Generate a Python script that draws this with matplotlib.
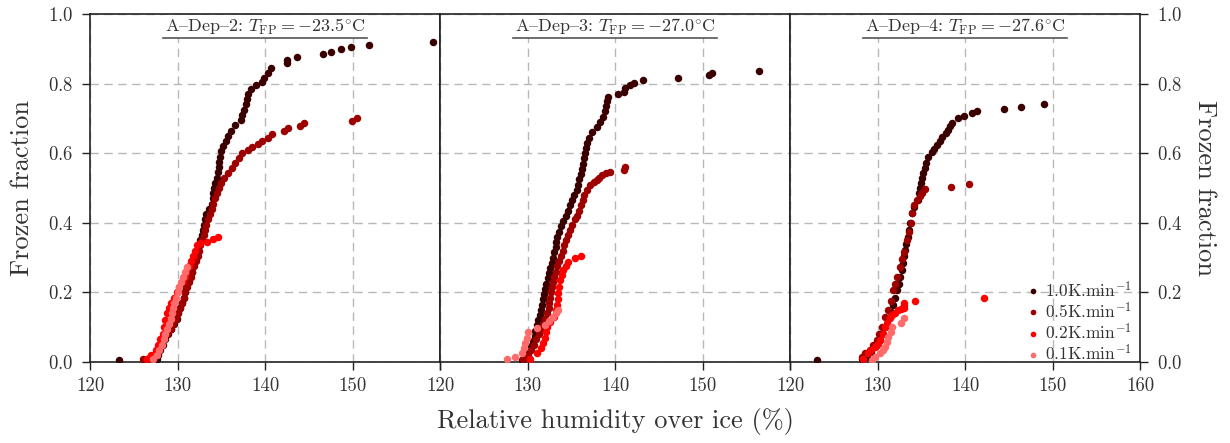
import matplotlib
matplotlib.use("Agg")
import matplotlib.pyplot as plt

plt.rcParams['font.family'] = ['cmr10', 'DejaVu Serif']
plt.rcParams['mathtext.fontset'] = 'cm'
plt.rcParams['axes.formatter.use_mathtext'] = True
plt.rcParams['axes.unicode_minus'] = True

rates = ["1.0K.min$^{-1}$", "0.5K.min$^{-1}$", "0.2K.min$^{-1}$", "0.1K.min$^{-1}$"]
colors = ["#3a0000", "#9e0000", "#ff0000", "#ff6b6b"]
# in cmr10 the '{' code point holds the en dash glyph
titles = [r"A{Dep{2: $T_{\mathrm{FP}} = -23.5^{\circ}$C",
          r"A{Dep{3: $T_{\mathrm{FP}} = -27.0^{\circ}$C",
          r"A{Dep{4: $T_{\mathrm{FP}} = -27.6^{\circ}$C"]
xticks = [120, 130, 140, 150, 160]
yticks = [0.0, 0.2, 0.4, 0.6, 0.8, 1.0]

# ---------- Panel 1 (A-Dep-2) ----------
p1_10_x = [123.3, 127.6, 127.8, 128.0, 128.3, 128.6, 128.9, 129.3, 129.6, 129.9, 130.1, 130.3, 130.5, 130.7,
           130.9, 131.0, 131.2, 131.4, 131.6, 131.8, 132.0, 132.2, 132.3, 132.4, 132.6, 132.8, 132.9, 133.0,
           133.1, 133.3, 133.6, 133.9, 134.0, 134.1, 134.2, 134.3, 134.5, 134.6, 134.7, 134.7, 134.8, 135.0,
           135.2, 135.5, 135.8, 136.1, 136.6, 137.2, 137.4, 137.6, 137.8, 137.9, 138.1, 138.4, 139.0, 139.6,
           139.9, 140.3, 140.7, 142.5, 142.5, 143.7, 146.6, 147.5, 148.7, 149.8, 151.9, 159.2]
p1_10_y = [0.005, 0.010, 0.020, 0.035, 0.050, 0.065, 0.080, 0.095, 0.110, 0.125, 0.140, 0.155, 0.170, 0.185,
           0.200, 0.215, 0.230, 0.245, 0.260, 0.275, 0.290, 0.305, 0.320, 0.335, 0.350, 0.365, 0.380, 0.395,
           0.410, 0.425, 0.440, 0.455, 0.470, 0.485, 0.500, 0.515, 0.530, 0.545, 0.560, 0.575, 0.590, 0.605,
           0.620, 0.635, 0.650, 0.665, 0.680, 0.695, 0.710, 0.725, 0.740, 0.755, 0.770, 0.785, 0.795, 0.805,
           0.815, 0.830, 0.845, 0.860, 0.868, 0.877, 0.885, 0.891, 0.899, 0.905, 0.911, 0.920]
p1_05_x = [126.1, 126.7, 127.4, 127.9, 128.2, 128.5, 128.8, 129.2, 129.5, 129.8, 130.0, 130.3, 130.5, 130.7,
           130.9, 131.1, 131.3, 131.5, 131.7, 131.9, 132.1, 132.3, 132.4, 132.6, 132.8, 133.0, 133.1, 133.3,
           133.5, 133.7, 133.9, 134.1, 134.3, 134.5, 134.7, 135.0, 135.3, 135.8, 136.2, 136.6, 137.0, 137.4,
           138.0, 138.5, 139.2, 139.7, 140.3, 140.8, 142.2, 142.6, 144.0, 144.4, 149.9, 150.5]
p1_05_y = [0.008, 0.012, 0.020, 0.035, 0.050, 0.065, 0.080, 0.095, 0.110, 0.125, 0.140, 0.155, 0.170, 0.185,
           0.200, 0.215, 0.230, 0.245, 0.260, 0.275, 0.290, 0.305, 0.320, 0.335, 0.350, 0.365, 0.380, 0.395,
           0.410, 0.425, 0.440, 0.455, 0.470, 0.485, 0.500, 0.515, 0.530, 0.543, 0.557, 0.572, 0.586, 0.600,
           0.610, 0.618, 0.627, 0.635, 0.645, 0.655, 0.665, 0.672, 0.678, 0.687, 0.693, 0.700]
p1_02_x = [126.5, 127.0, 127.5, 127.8, 128.0, 128.3, 128.5, 128.6, 128.8, 129.0, 129.3, 129.6, 129.9, 130.2,
           130.5, 130.8, 131.0, 131.3, 131.5, 131.8, 132.0, 132.2, 132.6, 133.4, 134.1, 134.6]
p1_02_y = [0.010, 0.020, 0.035, 0.050, 0.065, 0.080, 0.100, 0.120, 0.140, 0.155, 0.170, 0.185, 0.200, 0.215,
           0.230, 0.245, 0.260, 0.275, 0.290, 0.305, 0.320, 0.335, 0.342, 0.345, 0.353, 0.360]
p1_01_x = [127.2, 127.6, 127.9, 128.2, 128.4, 128.6, 128.8, 129.0, 129.2, 129.4, 129.5, 129.6, 129.8, 130.0,
           130.2, 130.4, 130.6, 130.8, 131.1]
p1_01_y = [0.010, 0.020, 0.035, 0.050, 0.065, 0.080, 0.095, 0.110, 0.125, 0.140, 0.155, 0.170, 0.185, 0.200,
           0.215, 0.230, 0.245, 0.260, 0.273]

# ---------- Panel 2 (A-Dep-3) ----------
p2_10_x = [129.4, 129.8, 130.1, 130.4, 130.6, 130.8, 130.9, 131.1, 131.2, 131.4, 131.5, 131.6, 131.8, 131.9,
           132.0, 132.1, 132.3, 132.5, 132.6, 132.8, 132.9, 133.0, 133.2, 133.3, 133.4, 133.6, 133.8, 134.1,
           134.4, 134.6, 134.9, 135.1, 135.3, 135.6, 135.8, 135.9, 136.1, 136.2, 136.3, 136.4, 136.6, 136.7,
           136.8, 137.0, 137.4, 137.9, 138.3, 138.6, 138.8, 139.0, 139.1, 139.2, 140.3, 141.0, 141.1, 141.7,
           142.2, 143.2, 147.2, 150.7, 151.1, 156.5]
p2_10_y = [0.006, 0.015, 0.030, 0.045, 0.060, 0.075, 0.090, 0.105, 0.120, 0.135, 0.150, 0.165, 0.180, 0.195,
           0.210, 0.225, 0.240, 0.255, 0.270, 0.285, 0.300, 0.315, 0.330, 0.345, 0.360, 0.375, 0.390, 0.405,
           0.420, 0.435, 0.450, 0.465, 0.480, 0.495, 0.510, 0.525, 0.540, 0.555, 0.570, 0.585, 0.600, 0.615,
           0.630, 0.645, 0.660, 0.675, 0.690, 0.705, 0.720, 0.735, 0.750, 0.762, 0.770, 0.776, 0.787, 0.796,
           0.802, 0.810, 0.816, 0.824, 0.830, 0.836]
p2_05_x = [129.5, 130.0, 130.4, 130.7, 131.0, 131.3, 131.6, 131.8, 132.0, 132.2, 132.4, 132.5, 132.6, 132.7,
           132.8, 132.9, 133.0, 133.2, 133.4, 133.6, 133.8, 134.0, 134.2, 134.4, 134.6, 134.9, 135.1, 135.4,
           135.7, 135.9, 136.1, 136.3, 136.5, 136.8, 137.1, 137.6, 137.9, 138.2, 138.5, 139.0, 139.4, 141.0, 141.1]
p2_05_y = [0.010, 0.020, 0.035, 0.050, 0.065, 0.080, 0.095, 0.110, 0.125, 0.140, 0.155, 0.170, 0.185, 0.200,
           0.215, 0.230, 0.245, 0.260, 0.275, 0.290, 0.305, 0.320, 0.335, 0.350, 0.365, 0.380, 0.395, 0.410,
           0.420, 0.435, 0.450, 0.465, 0.480, 0.495, 0.509, 0.516, 0.523, 0.530, 0.537, 0.542, 0.546, 0.553, 0.560]
p2_02_x = [130.3, 131.1, 131.5, 131.8, 132.0, 132.1, 132.2, 132.6, 133.0, 133.3, 133.4, 133.5, 133.5, 133.6,
           133.7, 133.9, 134.1, 134.4, 134.6, 135.4, 136.1]
p2_02_y = [0.010, 0.026, 0.040, 0.055, 0.070, 0.085, 0.100, 0.115, 0.130, 0.149, 0.165, 0.180, 0.198, 0.215,
           0.236, 0.250, 0.264, 0.277, 0.287, 0.299, 0.305]
p2_01_x = [127.7, 128.6, 129.4, 129.6, 129.7, 129.9, 130.1, 131.1, 132.0, 132.5, 132.9, 133.2, 133.5]
p2_01_y = [0.009, 0.014, 0.026, 0.040, 0.055, 0.070, 0.086, 0.098, 0.106, 0.118, 0.129, 0.140, 0.149]

# ---------- Panel 3 (A-Dep-4) ----------
p3_10_x = [123.1, 128.2, 128.8, 129.3, 129.8, 130.3, 130.6, 130.9, 131.2, 131.5, 131.8, 132.0, 132.2, 132.4,
           132.6, 132.8, 132.9, 133.0, 133.1, 133.3, 133.5, 133.6, 133.7, 133.9, 134.2, 134.6, 134.7, 134.8,
           135.0, 135.1, 135.2, 135.4, 135.5, 135.8, 136.2, 136.5, 136.8, 137.1, 137.4, 137.8, 138.1, 138.3,
           138.5, 139.2, 139.9, 140.8, 141.4, 144.5, 146.4, 149.0]
p3_10_y = [0.006, 0.010, 0.014, 0.030, 0.045, 0.063, 0.080, 0.100, 0.125, 0.145, 0.165, 0.185, 0.207, 0.225,
           0.245, 0.265, 0.285, 0.305, 0.322, 0.340, 0.360, 0.380, 0.400, 0.428, 0.445, 0.466, 0.486, 0.500,
           0.514, 0.530, 0.543, 0.558, 0.572, 0.589, 0.603, 0.613, 0.624, 0.635, 0.647, 0.657, 0.667, 0.677,
           0.687, 0.700, 0.707, 0.715, 0.721, 0.727, 0.733, 0.741]
p3_05_x = [128.2, 128.6, 129.1, 129.5, 129.9, 130.2, 130.5, 130.9, 131.2, 131.5, 131.8, 132.0, 132.2, 132.6,
           132.8, 133.0, 133.4, 133.6, 133.8, 133.9, 134.2, 134.5, 134.8, 135.1, 135.4, 138.4, 140.5]
p3_05_y = [0.014, 0.025, 0.034, 0.050, 0.063, 0.080, 0.100, 0.129, 0.150, 0.175, 0.207, 0.225, 0.245, 0.273,
           0.295, 0.315, 0.350, 0.375, 0.400, 0.428, 0.450, 0.466, 0.478, 0.486, 0.497, 0.503, 0.511]
p3_02_x = [128.3, 128.9, 129.3, 129.7, 130.0, 130.3, 130.6, 130.9, 131.1, 131.4, 131.7, 132.0, 132.3, 132.7,
           133.0, 133.0, 133.0, 134.3, 142.2]
p3_02_y = [0.010, 0.026, 0.035, 0.043, 0.053, 0.063, 0.080, 0.100, 0.113, 0.126, 0.135, 0.140, 0.149, 0.152,
           0.155, 0.163, 0.170, 0.176, 0.184]
p3_01_x = [129.4, 129.7, 130.3, 130.6, 130.9, 131.1, 131.2, 131.5, 131.7, 132.7, 133.0]
p3_01_y = [0.006, 0.014, 0.026, 0.035, 0.043, 0.058, 0.072, 0.086, 0.100, 0.112, 0.126]

panels = [
    [(p1_10_x, p1_10_y), (p1_05_x, p1_05_y), (p1_02_x, p1_02_y), (p1_01_x, p1_01_y)],
    [(p2_10_x, p2_10_y), (p2_05_x, p2_05_y), (p2_02_x, p2_02_y), (p2_01_x, p2_01_y)],
    [(p3_10_x, p3_10_y), (p3_05_x, p3_05_y), (p3_02_x, p3_02_y), (p3_01_x, p3_01_y)],
]

W, H, DPI = 1230, 443, 100
fig, axes = plt.subplots(1, 3, figsize=(W / DPI, H / DPI), dpi=DPI, sharey=True)
fig.subplots_adjust(left=90 / W, right=1140 / W, top=1 - 14 / H, bottom=1 - 362 / H, wspace=0)

spine_col = "#222222"
txt_col = "#333333"
grid_kw = dict(color="#b8b8b8", linestyle=(0, (6, 4)), linewidth=1.0)

for i, ax in enumerate(axes):
    for j, (xs, ys) in enumerate(panels[i]):
        ax.plot(xs, ys, 'o', color=colors[j], ms=5.4, mew=0, label=rates[j], zorder=3 + j)
    ax.set_xlim(120, 160)
    ax.set_ylim(0, 1)
    ax.set_xticks(xticks)
    labels = [str(t) for t in xticks]
    if i < 2:
        labels[-1] = ""
    ax.set_xticklabels(labels)
    ax.set_yticks(yticks)
    ax.grid(True, **grid_kw)
    ax.set_axisbelow(True)
    for s in ax.spines.values():
        s.set_color(spine_col)
        s.set_linewidth(1.2)
    ax.tick_params(axis='x', direction='out', length=6, width=1.0, color=spine_col,
                   labelsize=13.5, pad=5, labelcolor=txt_col)
    ax.tick_params(axis='y', direction='out', length=6, width=1.0, color=spine_col,
                   labelsize=13.5, pad=6, labelcolor=txt_col)
    if i == 0:
        ax.tick_params(axis='y', left=True, right=False, labelleft=True, labelright=False)
        ax.set_ylabel("Frozen fraction", fontsize=19, color=txt_col, labelpad=10)
    elif i == 2:
        ax.tick_params(axis='y', left=False, right=True, labelleft=False, labelright=True)
        ax.yaxis.set_label_position("right")
        ax.set_ylabel("Frozen fraction", fontsize=19, color=txt_col, rotation=270, labelpad=25)
    else:
        ax.tick_params(axis='y', left=False, right=False, labelleft=False, labelright=False)

axes[1].set_xlabel("Relative humidity over ice (%)", fontsize=19, color=txt_col, labelpad=9)

leg = axes[2].legend(loc='lower right', bbox_to_anchor=(0.995, -0.025), frameon=False, fontsize=12.5,
                     handletextpad=0.15, borderaxespad=0.0, labelspacing=0.05, handlelength=1.0,
                     markerscale=0.75)
for t in leg.get_texts():
    t.set_color(txt_col)

title_texts = []
for i, ax in enumerate(axes):
    t = ax.text(0.5, 0.993, titles[i], transform=ax.transAxes, ha='center', va='top',
                fontsize=13, color=txt_col, zorder=10,
                bbox=dict(facecolor='white', edgecolor='none', pad=1.0))
    title_texts.append(t)

fig.canvas.draw()
for ax, t in zip(axes, title_texts):
    bb = t.get_bbox_patch().get_window_extent()
    inv = ax.transAxes.inverted()
    (x0, y0), (x1, y1) = inv.transform([[bb.x0, bb.y0], [bb.x1, bb.y1]])
    ax.plot([x0, x1], [y0, y0], transform=ax.transAxes, color="#555555", lw=1.2,
            zorder=11, clip_on=False)

fig.savefig("out.png", dpi=DPI)
